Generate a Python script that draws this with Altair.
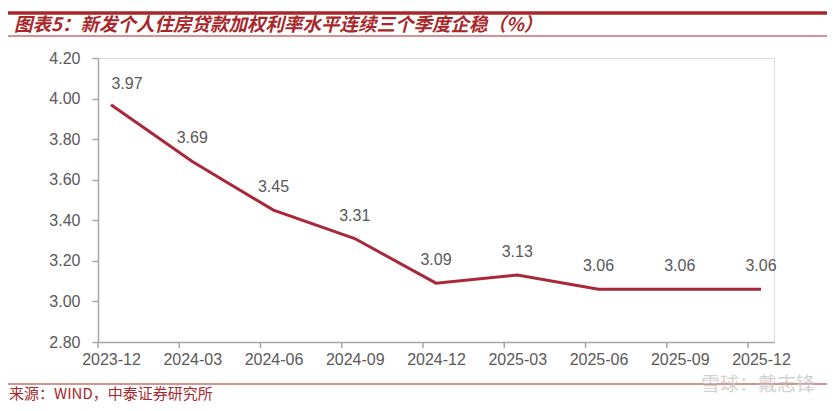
import altair as alt
import pandas as pd

dates = ["2023-12", "2024-03", "2024-06", "2024-09", "2024-12",
         "2025-03", "2025-06", "2025-09", "2025-12"]
rates = [3.97, 3.69, 3.45, 3.31, 3.09, 3.13, 3.06, 3.06, 3.06]

title_text = "图表5：新发个人住房贷款加权利率水平连续三个季度企稳（%）"
source_text = "来源：WIND，中泰证券研究所"
watermark_text = "雪球：戴志锋"

df = pd.DataFrame({"idx": list(range(len(dates))), "date": dates, "rate": rates})

RED = "#A8283A"
DARK = "#A8272B"
GRAY = "#A6A6A6"
LABEL = "#595959"
W, H = 676, 284
XDOM = [-0.16, len(dates) - 1 + 0.16]

label_expr = "[" + ",".join(f"'{d}'" for d in dates) + "][datum.value]"

xs = alt.X("idx:Q",
           scale=alt.Scale(domain=XDOM, nice=False, zero=False),
           axis=alt.Axis(values=list(range(len(dates))), labelExpr=label_expr,
                         ticks=False, grid=False, domainColor=GRAY, domainWidth=1.5,
                         labelColor=LABEL, labelFontSize=16, labelFont="Liberation Sans",
                         labelPadding=9, title=None, labelFlush=False))
ys = alt.Y("rate:Q",
           scale=alt.Scale(domain=[2.8, 4.2], nice=False, zero=False),
           axis=alt.Axis(values=[2.8, 3.0, 3.2, 3.4, 3.6, 3.8, 4.0, 4.2], format=".2f",
                         grid=False, domainColor=GRAY, domainWidth=1.5, tickColor=GRAY,
                         tickSize=6, tickWidth=1.5, labelColor=LABEL, labelFontSize=16,
                         labelFont="Liberation Sans", labelPadding=12, title=None))

base = alt.Chart(df)

line = base.mark_line(color=RED, strokeWidth=3).encode(x=xs, y=ys)
labels_rest = base.transform_filter("datum.idx > 0").mark_text(
    dy=-23, fontSize=16, font="Liberation Sans", color=LABEL, baseline="middle").encode(
    x=xs, y=ys, text=alt.Text("rate:Q", format=".2f"))
label_first = base.transform_filter("datum.idx == 0").mark_text(
    dy=-21, dx=16, fontSize=16, font="Liberation Sans", color=LABEL, baseline="middle").encode(
    x=xs, y=ys, text=alt.Text("rate:Q", format=".2f"))
ticks = base.transform_calculate(tx="datum.idx - 0.16").mark_rule(
    color=GRAY, strokeWidth=1.5).encode(
    x=alt.X("tx:Q", scale=alt.Scale(domain=XDOM, nice=False, zero=False)),
    y=alt.value(H), y2=alt.value(H + 6))

one = pd.DataFrame({"a": [0]})
deco = alt.Chart(one)
top_bar = deco.mark_rule(color=DARK, strokeWidth=3.5).encode(
    x=alt.value(-90), x2=alt.value(729), y=alt.value(-45))
title_line = deco.mark_rule(color=DARK, strokeWidth=1.2).encode(
    x=alt.value(-90), x2=alt.value(729), y=alt.value(-22))
foot_line = deco.mark_rule(color=DARK, strokeWidth=1.2).encode(
    x=alt.value(-90), x2=alt.value(729), y=alt.value(326))
title = deco.mark_text(align="left", baseline="middle", fontSize=18.5, fontWeight="bold",
                       fontStyle="italic", font="Noto Sans CJK SC", color=DARK).encode(
    x=alt.value(-84), y=alt.value(-33), text=alt.value(title_text))
source = deco.mark_text(align="left", baseline="middle", fontSize=15,
                        font="Noto Sans CJK SC", color=DARK).encode(
    x=alt.value(-89), y=alt.value(336), text=alt.value(source_text))
watermark = deco.mark_text(align="right", baseline="middle", fontSize=19,
                           font="Noto Sans CJK SC", color="#C8C8C8", opacity=0.8).encode(
    x=alt.value(717), y=alt.value(327), text=alt.value(watermark_text))

chart = alt.layer(line, ticks, labels_rest, label_first, top_bar, title_line, foot_line,
                  title, source, watermark).properties(
    width=W, height=H,
    autosize=alt.AutoSizeParams(type="none"),
    padding={"left": 90, "top": 50, "right": 53, "bottom": 60},
).configure_view(stroke=None).configure(background="white")

chart.save("out.html", embed_options={"renderer": "svg", "actions": False})
